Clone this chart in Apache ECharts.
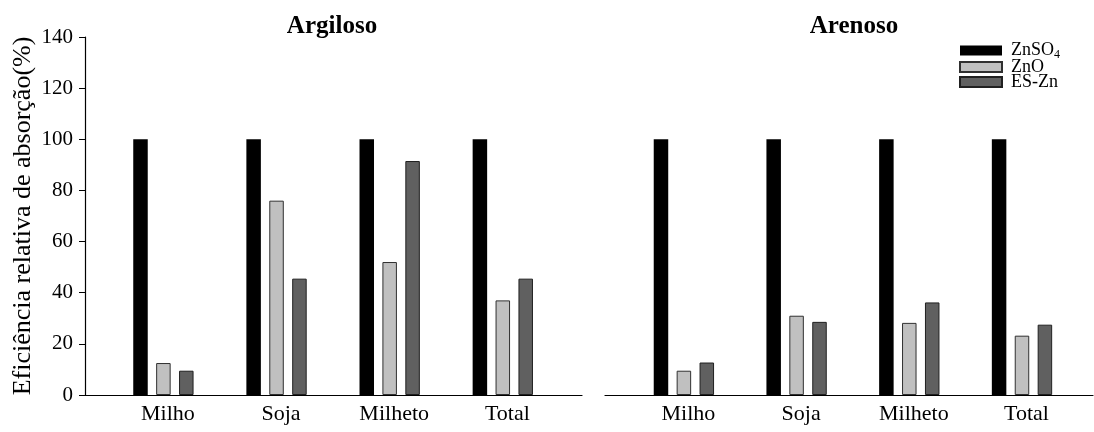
<!DOCTYPE html>
<html>
<head>
<meta charset="utf-8">
<script src="https://cdn.jsdelivr.net/npm/echarts@6/dist/echarts.min.js"></script>
<style>
  html, body { margin: 0; padding: 0; background: #fff; }
  #chart { width: 1094px; height: 432px; }
</style>
</head>
<body>
<div id="chart"></div>
<script>
const categories = ['Milho', 'Soja', 'Milheto', 'Total'];
const seriesNames = ['ZnSO4', 'ZnO', 'ES-Zn'];
const panels = ['Argiloso', 'Arenoso'];
const yTicks = [0, 20, 40, 60, 80, 100, 120, 140];

// Argiloso
const argZnSO4 = [100, 100, 100, 100];
const argZnO = [12.5, 76, 52, 37];
const argESZn = [9.5, 45.5, 91.5, 45.5];
// Arenoso
const areZnSO4 = [100, 100, 100, 100];
const areZnO = [9.5, 31, 28.2, 23.2];
const areESZn = [12.7, 28.6, 36.2, 27.5];

const colors = ['#000000', '#c0c0c0', '#606060'];
const borders = ['#000000', '#303030', '#202020'];
const serif = '"Liberation Serif", "DejaVu Serif", serif';

const myChart = echarts.init(document.getElementById('chart'));

function toPoints(arr) {
  return arr.map((v, i) => [i, v]);
}

function makeSeries(gridIdx, lists) {
  return lists.map((list, k) => ({
    name: seriesNames[k],
    type: 'bar',
    xAxisIndex: gridIdx,
    yAxisIndex: gridIdx,
    barWidth: 14.5,
    barGap: '58%',
    data: toPoints(list),
    itemStyle: {
      color: colors[k],
      borderColor: borders[k],
      borderWidth: k === 0 ? 0 : 1,
    },
  }));
}

function makeXAxis(gridIdx, min, max) {
  return {
    type: 'value',
    gridIndex: gridIdx,
    min: min,
    max: max,
    axisLine: { onZero: false, lineStyle: { color: '#000', width: 1.2 } },
    axisTick: { show: false },
    splitLine: { show: false },
    axisLabel: {
      customValues: categories.map((c, i) => i + 0.04),
      formatter: v => categories[Math.round(v)],
      color: '#000',
      fontFamily: serif,
      fontSize: 22,
      margin: 8,
    },
  };
}

const titleStyle = { fontFamily: serif, fontWeight: 'bold', fontSize: 25, color: '#000' };

const option = {
  backgroundColor: '#fff',
  animation: false,
  title: [
    { text: panels[0], left: 327, top: 9, textAlign: 'center', textStyle: titleStyle },
    { text: panels[1], left: 849, top: 9, textAlign: 'center', textStyle: titleStyle },
  ],
  legend: {
    orient: 'vertical',
    left: 954,
    top: 35,
    itemWidth: 42,
    itemHeight: 10,
    itemGap: -3,
    icon: 'rect',
    data: seriesNames,
    formatter: name => (name === 'ZnSO4' ? 'ZnSO{s|4}' : name),
    textStyle: {
      fontFamily: serif,
      fontSize: 18,
      lineHeight: 16,
      color: '#000',
      padding: [0, 0, 0, 4],
      rich: {
        s: { fontFamily: serif, fontSize: 12, lineHeight: 16, padding: [9, 0, 0, 0] },
      },
    },
  },
  grid: [
    { left: 85, right: 512, top: 37, bottom: 37 },
    { left: 605, right: 1, top: 37, bottom: 37 },
  ],
  xAxis: [
    makeXAxis(0, -0.693, 3.7),
    makeXAxis(1, -0.70, 3.63),
  ],
  yAxis: [
    {
      type: 'value',
      gridIndex: 0,
      min: yTicks[0],
      max: yTicks[yTicks.length - 1],
      interval: 20,
      name: 'Eficiência relativa de absorção(%)',
      nameLocation: 'middle',
      nameGap: 49,
      nameTextStyle: { fontFamily: serif, fontSize: 26, color: '#000' },
      axisLine: { show: true, onZero: false, lineStyle: { color: '#000', width: 1.2 } },
      axisTick: { show: true, length: 6, lineStyle: { color: '#000' } },
      splitLine: { show: false },
      axisLabel: { color: '#000', fontFamily: serif, fontSize: 21, margin: 12 },
    },
    {
      type: 'value',
      gridIndex: 1,
      min: yTicks[0],
      max: yTicks[yTicks.length - 1],
      interval: 20,
      show: false,
    },
  ],
  series: [
    ...makeSeries(0, [argZnSO4, argZnO, argESZn]),
    ...makeSeries(1, [areZnSO4, areZnO, areESZn]),
  ],
};

myChart.setOption(option);
</script>
</body>
</html>
